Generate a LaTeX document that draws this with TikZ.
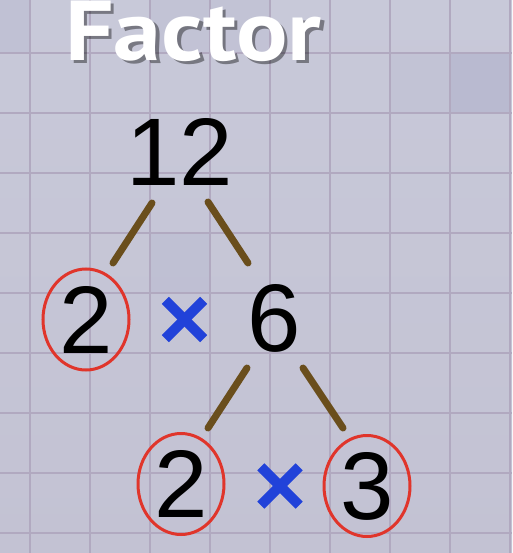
\documentclass[tikz,border=0pt]{standalone}
\usepackage{fontspec}
\setmainfont{Liberation Sans}
\newfontfamily\titlefont{PT Sans}
\usetikzlibrary{shapes.geometric}
\definecolor{bgtop}{HTML}{C8C9D9}
\definecolor{bgmid}{HTML}{D4D3E1}
\definecolor{bgbot}{HTML}{C3C2D3}
\definecolor{gridc}{HTML}{B1A9C0}
\definecolor{cellc}{HTML}{B8B9D0}
\definecolor{branch}{HTML}{6A4E1C}
\definecolor{multc}{HTML}{2142D9}
\definecolor{ringc}{HTML}{E0352B}
\tikzset{
  num/.style={inner sep=0pt, font=\fontsize{96}{100}\selectfont, text=black},
  ring/.style={num, ellipse, draw=ringc, line width=3pt, minimum width=86pt, minimum height=101pt},
  xbox/.style={inner sep=0pt, minimum size=38pt},
  xstroke/.style={draw=multc, line width=10pt},
  branchline/.style={draw=branch, line width=7pt, line cap=round},
  gridline/.style={draw=gridc, line width=1.6pt},
  titletext/.style={inner sep=0pt, anchor=base west, font=\titlefont\bfseries\fontsize{85}{85}\selectfont}
}
\begin{document}
\begin{tikzpicture}[x=1pt,y=-1pt]
\useasboundingbox (0,0) rectangle (512,553);
% background
\shade[top color=bgtop, middle color=bgmid, bottom color=bgbot] (0,0) rectangle (512,553);
\fill[cellc, opacity=0.9] (450,53) rectangle (510,113);
\fill[cellc, opacity=0.45] (150,233) rectangle (210,293);
\fill[cellc, opacity=0.35] (150,0) rectangle (270,53);
\fill[cellc, opacity=0.45] (0,0) rectangle (30,53);
\fill[cellc, opacity=0.3] (390,53) rectangle (450,113);
% grid
\foreach \gx in {30,90,...,510} \draw[gridline] (\gx,0) -- (\gx,553);
\foreach \gy in {53,113,...,533} \draw[gridline] (0,\gy) -- (512,\gy);
% title with shadow
\node[titletext, text=black, opacity=0.4] (shadow) at (68.5,63.5) {\scalebox{1.13}[1]{Factor}};
\node[titletext, text=white] (title) at (65,61) {\scalebox{1.13}[1]{Factor}};
% numbers
\node[num] (n12) at (180,151.5) {12};
\node[ring] (l2) at (86,319.5) {2};
\node[num] (n6) at (274.5,318) {6};
\node[ring] (b2) at (181,484) {2};
\node[ring] (b3) at (367,486) {3};
% multiplication signs
\node[xbox] (x1) at (184.5,319.5) {};
\draw[xstroke] (x1.north west) -- (x1.south east);
\draw[xstroke] (x1.north east) -- (x1.south west);
\node[xbox] (x2) at (280,486) {};
\draw[xstroke] (x2.north west) -- (x2.south east);
\draw[xstroke] (x2.north east) -- (x2.south west);
% branches
\coordinate (a1) at (152,203); \coordinate (a2) at (113,263);
\coordinate (c1) at (208,202); \coordinate (c2) at (248,263);
\coordinate (d1) at (247,368); \coordinate (d2) at (208,428);
\coordinate (e1) at (303,368); \coordinate (e2) at (343,428);
\draw[branchline] (a1) -- (a2);
\draw[branchline] (c1) -- (c2);
\draw[branchline] (d1) -- (d2);
\draw[branchline] (e1) -- (e2);
\end{tikzpicture}
\end{document}
